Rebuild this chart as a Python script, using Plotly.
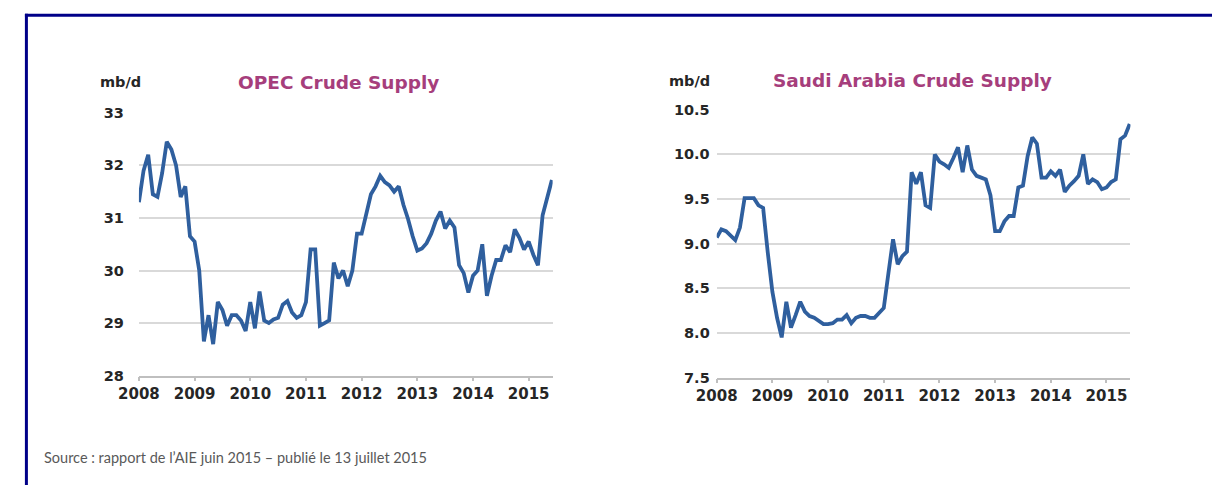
import plotly.graph_objects as go

# monthly values, Jan 2008 .. Jun 2015 (90 months)
opec_supply = [
    31.3, 31.9, 32.2, 31.45, 31.4, 31.85, 32.45, 32.3, 32.0, 31.4, 31.6, 30.65,
    30.55, 30.0, 28.65, 29.15, 28.6, 29.4, 29.25, 28.95, 29.15, 29.15, 29.05, 28.85,
    29.4, 28.9, 29.6, 29.05, 29.0, 29.07, 29.1, 29.35, 29.42, 29.2, 29.1, 29.15,
    29.4, 30.4, 30.4, 28.95, 29.0, 29.05, 30.15, 29.85, 30.0, 29.7, 30.0, 30.7,
    30.7, 31.1, 31.45, 31.6, 31.8, 31.68, 31.62, 31.5, 31.6, 31.25, 30.98, 30.65,
    30.38, 30.42, 30.52, 30.7, 30.95, 31.12, 30.8, 30.95, 30.82, 30.1, 29.95, 29.58,
    29.9, 30.0, 30.5, 29.52, 29.9, 30.2, 30.2, 30.48, 30.35, 30.78, 30.62, 30.4,
    30.55, 30.3, 30.1, 31.05, 31.38, 31.72,
]
saudi_supply = [
    9.07, 9.16, 9.14, 9.09, 9.04, 9.18, 9.51, 9.51, 9.51, 9.43, 9.4, 8.9,
    8.46, 8.17, 7.95, 8.35, 8.06, 8.2, 8.35, 8.24, 8.19, 8.17, 8.13, 8.1,
    8.1, 8.11, 8.15, 8.15, 8.2, 8.11, 8.17, 8.19, 8.19, 8.17, 8.17, 8.22,
    8.28, 8.67, 9.05, 8.77, 8.86, 8.91, 9.8, 9.67, 9.8, 9.43, 9.4, 10.0,
    9.92, 9.89, 9.85, 9.96, 10.08, 9.8, 10.1, 9.83, 9.76, 9.74, 9.72, 9.54,
    9.14, 9.14, 9.25, 9.31, 9.31, 9.63, 9.65, 9.98, 10.19, 10.12, 9.74, 9.74,
    9.81, 9.76, 9.83, 9.58, 9.65, 9.7, 9.76, 10.0, 9.67, 9.72, 9.69, 9.61,
    9.63, 9.69, 9.72, 10.17, 10.21, 10.34,
]
months = [2008 + i / 12 for i in range(len(opec_supply))]
years = list(range(2008, 2016))
opec_ticks = [28, 29, 30, 31, 32, 33]
saudi_ticks = [7.5, 8.0, 8.5, 9.0, 9.5, 10.0, 10.5]

W, H = 1212, 493
LINE = "#2F5F9E"
TITLE = "#A63E7C"
TEXT = "#262626"
GRID = "#D9D9D9"
FONT = "DejaVu Sans"


def px(x):
    return x / W


def py(y):
    return 1 - y / H


fig = go.Figure()
fig.add_trace(go.Scatter(x=months, y=opec_supply, mode="lines",
                         line={"color": LINE, "width": 3.8}, xaxis="x", yaxis="y"))
fig.add_trace(go.Scatter(x=months, y=saudi_supply, mode="lines",
                         line={"color": LINE, "width": 3.8}, xaxis="x2", yaxis="y2"))

xcommon = dict(
    range=[2008, 2015.43], tickvals=years, showgrid=False, zeroline=False,
    showline=True, linecolor="#BFBFBF", linewidth=1.5,
    ticks="outside", ticklen=4, tickcolor="#BFBFBF", tickwidth=1.5,
    tickfont={"family": FONT, "size": 15, "color": TEXT, "weight": "bold"},
    ticklabelstandoff=0,
)
ycommon = dict(
    showgrid=True, gridcolor=GRID, gridwidth=1.5, zeroline=False, showline=False,
    ticks="", tickfont={"family": FONT, "size": 14.5, "color": TEXT, "weight": "bold"},
)

fig.update_layout(
    width=W, height=H,
    margin={"l": 0, "r": 0, "t": 0, "b": 0},
    paper_bgcolor="white", plot_bgcolor="white",
    showlegend=False,
    xaxis=dict(xcommon, domain=[px(120), px(541)], anchor="y"),
    yaxis=dict(ycommon, domain=[py(380), py(108)], anchor="x",
               range=[28, 33.005], tickvals=opec_ticks, ticklabelstandoff=14),
    xaxis2=dict(xcommon, domain=[px(708), px(1129)], anchor="y2"),
    yaxis2=dict(ycommon, domain=[py(382), py(105)], anchor="x2",
                range=[7.5, 10.502], tickvals=saudi_ticks,
                tickformat=".1f", ticklabelstandoff=6),
)

bold = {"family": FONT, "color": TEXT, "size": 14.5, "weight": "bold"}
title_font = {"family": FONT, "color": TITLE, "size": 18.5, "weight": "bold"}
notes = [
    dict(x=px(78), y=py(76), text="mb/d", font=bold, xanchor="left"),
    dict(x=px(657), y=py(75), text="mb/d", font=bold, xanchor="left"),
    dict(x=px(323), y=py(77), text="OPEC Crude Supply", font=title_font, xanchor="center"),
    dict(x=px(907), y=py(75), text="Saudi Arabia Crude Supply", font=title_font, xanchor="center"),
    dict(x=px(21), y=py(465), text="Source : rapport de l’AIE juin 2015 – publié le 13 juillet 2015",
         font={"family": "Lato", "size": 14.5, "color": "#595959"}, xanchor="left"),
]
for n in notes:
    fig.add_annotation(xref="paper", yref="paper", yanchor="middle", showarrow=False, **n)

# navy frame, top and left edges
fig.add_shape(type="line", xref="paper", yref="paper", x0=px(4), x1=1, y0=py(7.5), y1=py(7.5),
              line={"color": "#000088", "width": 3})
fig.add_shape(type="line", xref="paper", yref="paper", x0=px(5.5), x1=px(5.5), y0=0, y1=py(6),
              line={"color": "#000088", "width": 3})

# page margins would push the 1212x493 figure past the window
fig.write_html(
    "out.html",
    config={"displayModeBar": False},
    post_script="document.body.style.margin='0';document.body.style.overflow='hidden';",
)
